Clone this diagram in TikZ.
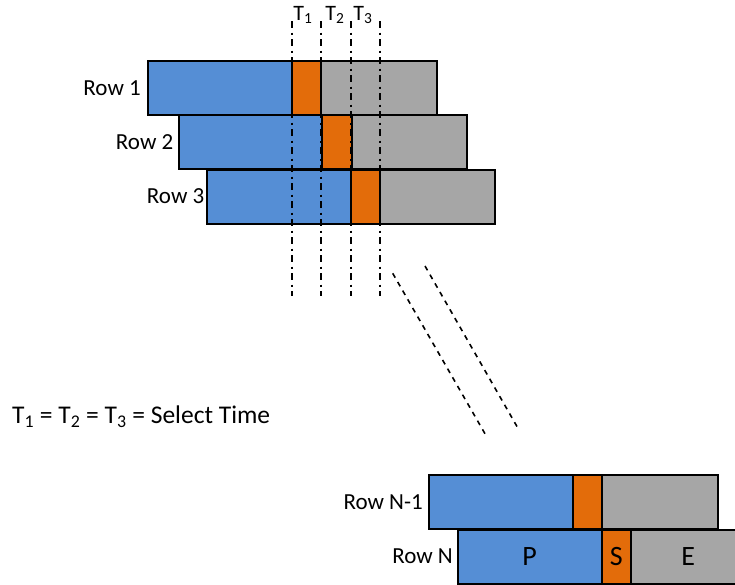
\documentclass[tikz,border=0pt]{standalone}
\usepackage{fontspec}
\setmainfont{Carlito}
\definecolor{pblue}{RGB}{85,142,213}
\definecolor{sorange}{RGB}{227,108,10}
\definecolor{egray}{RGB}{166,166,166}
\begin{document}
\begin{tikzpicture}[x=1pt,y=-1pt,
  seg/.style={draw=black,line width=2.1pt,inner sep=0pt,outer sep=0pt,minimum height=54pt,font=\fontsize{28}{30}\selectfont},
  pseg/.style={seg,fill=pblue},
  sseg/.style={seg,fill=sorange},
  eseg/.style={seg,fill=egray},
  lbl/.style={inner sep=0pt,anchor=east,font=\fontsize{23}{26}\selectfont},
  tl/.style={inner sep=0pt,font=\fontsize{22}{24}\selectfont},
  tline/.style={line width=1.7pt,dash pattern=on 7pt off 4.5pt on 2pt off 4.5pt},
  diag/.style={line width=1.6pt,dash pattern=on 5pt off 5pt}]
\useasboundingbox (0,0) rectangle (735,584);
% Row 1
\node[pseg,minimum width=144pt] (r1p) at (220.3,88) {};
\node[sseg,minimum width=28.4pt] (r1s) at (306.5,88) {};
\node[eseg,minimum width=116pt] (r1e) at (378.7,88) {};
% Row 2
\node[pseg,minimum width=143.3pt] (r2p) at (250.65,142.2) {};
\node[sseg,minimum width=29.4pt] (r2s) at (337,142.2) {};
\node[eseg,minimum width=115pt] (r2e) at (409.2,142.2) {};
% Row 3
\node[pseg,minimum width=144pt] (r3p) at (278.7,196.6) {};
\node[sseg,minimum width=29.3pt] (r3s) at (365.35,196.6) {};
\node[eseg,minimum width=115pt] (r3e) at (437.5,196.6) {};
% Row N-1
\node[pseg,minimum width=144pt] (rmp) at (501.3,502.2) {};
\node[sseg,minimum width=29pt] (rms) at (587.8,502.2) {};
\node[eseg,minimum width=115.4pt] (rme) at (660,502.2) {};
% Row N
\node[pseg,minimum width=144pt] (rnp) at (529.7,556.6) {P};
\node[sseg,minimum width=29pt] (rns) at (616.2,556.6) {S};
\node[eseg,minimum width=115pt] (rne) at (688.2,556.6) {E};
% row labels
\node[lbl] (l1) at (141,88) {Row 1};
\node[lbl] (l2) at (173.5,142) {Row 2};
\node[lbl] (l3) at (204.5,196) {Row 3};
\node[lbl] (lm) at (423,502) {Row N-1};
\node[lbl] (ln) at (453,556) {Row N};
% time lines
\foreach \i/\x in {a/292,b/321.3,c/350.7,d/380}{
  \coordinate (t\i top) at (\x,21);
  \coordinate (t\i bot) at (\x,296);
  \draw[tline] (t\i top) -- (t\i bot);
}
\node[tl] (T1) at (303,15) {T\textsubscript{1}};
\node[tl] (T2) at (335,15) {T\textsubscript{2}};
\node[tl] (T3) at (363,15) {T\textsubscript{3}};
% diagonal dashed
\coordinate (d1a) at (392.7,273.3);
\coordinate (d1b) at (486.7,436.7);
\coordinate (d2a) at (425,266);
\coordinate (d2b) at (519,430);
\draw[diag] (d1a) -- (d1b);
\draw[diag] (d2a) -- (d2b);
% formula
\node[inner sep=0pt,anchor=west,font=\fontsize{25.5}{28}\selectfont] (f) at (12,417) {T\textsubscript{1} = T\textsubscript{2} = T\textsubscript{3} = Select Time};
\end{tikzpicture}
\end{document}
